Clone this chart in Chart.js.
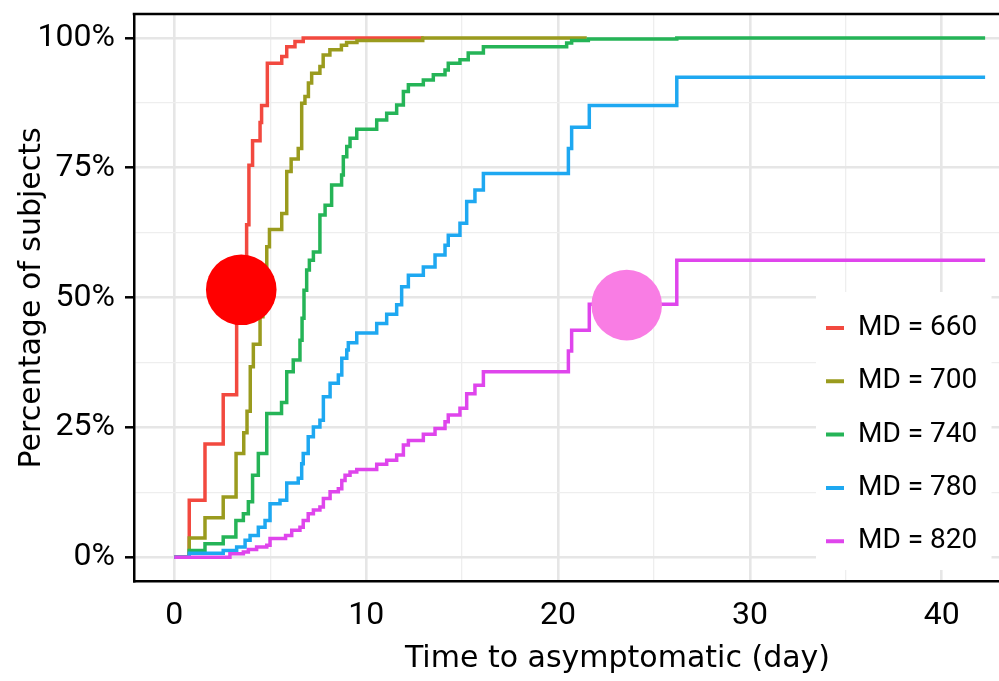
<!DOCTYPE html>
<html>
<head>
<meta charset="utf-8">
<style>
  html, body { margin: 0; padding: 0; background: #ffffff; overflow: hidden; width: 999px; height: 681px; }
  #wrap { position: relative; width: 1111px; height: 681px; }
</style>
</head>
<body>
<div id="wrap"><canvas id="c"></canvas></div>
<script src="https://cdn.jsdelivr.net/npm/chart.js@4"></script>
<script>
// ---- data (time in days, cumulative percentage) ----
const seriesLabels = ['MD = 660', 'MD = 700', 'MD = 740', 'MD = 780', 'MD = 820'];
const seriesColors = ['#f2493f', '#9a9b1e', '#25b457', '#1ea8f1', '#df45ec'];

const times660 = [0, 0.78, 1.6, 2.55, 3.25, 3.77, 3.89, 4.08, 4.47, 4.55, 4.85, 5.6, 5.86, 6.29, 6.72, 13.0];
const pct660   = [0, 11, 21.8, 31.3, 50, 64, 75.5, 80.2, 83.7, 87, 95.1, 96.4, 98.3, 99.3, 100, 100];

const times700 = [0, 0.78, 1.6, 2.55, 3.22, 3.62, 3.79, 3.96, 4.12, 4.47, 4.62, 4.82, 4.96, 5.6, 5.86, 6.09, 6.46, 6.64, 6.81, 6.99, 7.16, 7.59, 7.76, 8.11, 8.71, 8.98, 9.52, 12.95, 21.5];
const pct700   = [0, 3.7, 7.6, 11.6, 20, 24, 28.1, 36.7, 41, 46.3, 52, 59.8, 63.1, 66.2, 74.3, 76.7, 78.7, 87.4, 88.7, 91.3, 93.2, 94.5, 96.7, 97.7, 98.6, 99.1, 99.5, 100, 100];

const times740 = [0, 0.78, 1.6, 2.55, 3.21, 3.6, 3.86, 4.08, 4.38, 4.82, 5.59, 5.86, 6.2, 6.55, 6.66, 6.76, 6.9, 7.04, 7.25, 7.59, 7.86, 8.2, 8.72, 8.81, 8.99, 9.16, 9.51, 10.55, 11.07, 11.59, 11.94, 12.2, 12.98, 13.5, 14.11, 14.28, 14.89, 15.32, 16.11, 20.45, 20.71, 21.58, 26.19, 42.26];
const pct740   = [0, 1.3, 2.6, 3.9, 7.1, 8.4, 10.7, 15.8, 20, 27.7, 29.8, 35.7, 38, 41.8, 46, 51.4, 55.3, 57.2, 58.8, 65.9, 67.8, 71.7, 73.6, 77.1, 79.1, 80.7, 82.4, 84.2, 85.5, 87.1, 89.7, 91, 91.9, 92.9, 93.8, 95.1, 95.8, 97.1, 98.3, 99, 99.5, 99.8, 100, 100];

const times780 = [0, 0.78, 2.55, 3.25, 3.69, 3.95, 4.38, 4.73, 4.99, 5.51, 5.86, 6.46, 6.64, 6.72, 6.98, 7.25, 7.59, 7.77, 8.12, 8.55, 8.73, 8.99, 9.07, 9.51, 10.55, 11.07, 11.59, 11.85, 12.2, 12.98, 13.59, 14.11, 14.28, 14.89, 15.24, 15.67, 16.11, 20.54, 20.71, 21.63, 26.19, 42.26];
const pct780   = [0, 0.8, 1.3, 2, 3.3, 4.2, 5.8, 7.1, 10.3, 11, 14.3, 15.2, 18, 20, 23.2, 25.1, 26.4, 30.9, 33.5, 35.1, 38.3, 39.9, 41.3, 43.2, 45, 46.8, 48.6, 52.1, 54.3, 55.9, 58.2, 60.1, 62, 64.3, 68.5, 70.7, 73.9, 78.7, 82.8, 87, 92.4, 92.4];

const times820 = [0, 2.9, 3.6, 3.86, 4.29, 4.82, 4.99, 5.8, 6.12, 6.55, 6.72, 6.98, 7.25, 7.59, 7.77, 8.12, 8.55, 8.73, 8.9, 9.16, 9.51, 10.55, 11.07, 11.59, 11.94, 12.2, 12.98, 13.59, 14.11, 14.28, 14.89, 15.24, 15.67, 16.11, 20.54, 20.71, 21.63, 26.19, 42.26];
const pct820   = [0, 0.7, 1, 1.5, 2, 2.3, 3.6, 4.2, 5.2, 5.8, 7.1, 8.4, 9.1, 9.7, 11.3, 12.6, 13.2, 14.8, 15.8, 16.4, 16.9, 17.9, 18.7, 19.7, 21.6, 22.5, 23.7, 24.8, 26.1, 27.4, 28.7, 31.5, 33.1, 35.7, 39.7, 43.7, 48.7, 57.2, 57.2];

// highlighted markers (circles) drawn over the curves
const markerX = [3.49, 23.58];
const markerY = [51.5, 48.55];
const markerColors = ['#ff0000', '#f97de4'];

// axis ticks
const xTickLabels = [0, 10, 20, 30, 40];
const yTickLabels = [0, 25, 50, 75, 100];

// ---- build datasets ----
const allTimes = [times660, times700, times740, times780, times820];
const allPct = [pct660, pct700, pct740, pct780, pct820];

function toPoints(ts, ps) {
  const n = Math.min(ts.length, ps.length);
  const out = [];
  for (let i = 0; i < n; i++) out.push({ x: ts[i], y: ps[i] });
  return out;
}

const datasets = seriesLabels.map((lab, i) => ({
  label: lab,
  data: toPoints(allTimes[i], allPct[i]),
  borderColor: seriesColors[i],
  backgroundColor: seriesColors[i],
  borderWidth: 3.5,
  pointRadius: 0,
  stepped: 'before',
  fill: false,
  order: seriesLabels.length - i
}));
datasets.push({
  label: 'markers',
  data: toPoints(markerX, markerY),
  showLine: false,
  pointRadius: 35.3,
  pointBackgroundColor: markerColors,
  pointBorderColor: markerColors,
  pointBorderWidth: 0,
  order: 0
});

const isMajorX = v => xTickLabels.includes(v);
const isMajorY = v => yTickLabels.includes(v);

// legend placed inside the plot with a white box behind it
const insideLegend = {
  id: 'insideLegend',
  afterLayout(chart) {
    const lg = chart.legend;
    if (!lg) return;
    lg.left = 800.7; lg.top = 288.7; lg.right = 991.5; lg.bottom = 640;
    lg.width = lg.right - lg.left; lg.height = lg.bottom - lg.top;
    if (!lg.__wrapped) {
      const orig = lg.draw;
      lg.draw = function (...args) {
        const c = this.ctx;
        c.save();
        c.fillStyle = '#ffffff';
        c.fillRect(816, 292, 175.5, 278);
        c.restore();
        return orig.apply(this, args);
      };
      lg.__wrapped = true;
    }
  }
};

const frameTop = {
  id: 'frameTop',
  afterDraw(chart) {
    const { ctx, chartArea: a } = chart;
    ctx.save();
    ctx.strokeStyle = '#000000';
    ctx.lineWidth = 2.5;
    ctx.beginPath();
    ctx.moveTo(a.left - 1.25, a.top);
    ctx.lineTo(a.right, a.top);
    ctx.stroke();
    ctx.restore();
  }
};

const noPad = s => { s.paddingTop = 0; s.paddingBottom = 0; s.paddingLeft = 0; s.paddingRight = 0; };

const tickFont = { family: 'Roboto', size: 32 };
const titleFont = { family: 'DejaVu Sans', size: 30 };

new Chart(document.getElementById('c'), {
  type: 'line',
  data: { datasets },
  plugins: [insideLegend, frameTop],
  options: {
    responsive: true,
    maintainAspectRatio: false,
    animation: false,
    events: [],
    devicePixelRatio: 1,
    layout: { autoPadding: false, padding: { top: 14, right: 10, bottom: 0, left: 0 } },
    plugins: {
      title: { display: false },
      tooltip: { enabled: false },
      legend: {
        display: true,
        position: 'chartArea',
        align: 'start',
        labels: {
          color: '#000000',
          font: { family: 'Roboto', size: 28 },
          usePointStyle: true,
          pointStyle: 'line',
          pointStyleWidth: 18,
          padding: 25.3,
          filter: item => item.text !== 'markers',
          sort: (a, b) => a.datasetIndex - b.datasetIndex,
          generateLabels: chart => {
            const items = Chart.defaults.plugins.legend.labels.generateLabels(chart);
            items.forEach(it => { it.lineWidth = 4; });
            return items;
          }
        }
      }
    },
    scales: {
      x: {
        type: 'linear',
        min: -2.1,
        max: 48.3,
        afterFit: s => { s.height = 99.3; noPad(s); },
        border: { display: true, color: '#000000', width: 2.5 },
        grid: {
          drawTicks: false,
          color: c => (c.tick && isMajorX(c.tick.value) ? '#e6e6e6' : '#eeeeee'),
          lineWidth: c => (c.tick && isMajorX(c.tick.value) ? 2.6 : 1.3)
        },
        ticks: {
          stepSize: 5,
          includeBounds: false,
          autoSkip: false,
          maxRotation: 0,
          padding: 15,
          color: '#000000',
          font: tickFont,
          callback: v => (isMajorX(v) ? String(v) : '')
        },
        title: {
          display: true,
          text: 'Time to asymptomatic (day)',
          color: '#000000',
          font: titleFont,
          padding: { top: 0, bottom: 3.4 }
        }
      },
      y: {
        type: 'linear',
        min: -4.7,
        max: 104.6,
        afterFit: s => { s.width = 134; noPad(s); },
        border: { display: true, color: '#000000', width: 2.5 },
        grid: {
          drawTicks: true,
          tickLength: 9,
          tickWidth: 2.5,
          tickColor: c => (c.tick && isMajorY(c.tick.value) ? '#000000' : 'rgba(0,0,0,0)'),
          color: c => (c.tick && isMajorY(c.tick.value) ? '#e6e6e6' : '#eeeeee'),
          lineWidth: c => (c.tick && isMajorY(c.tick.value) ? 2.6 : 1.3)
        },
        ticks: {
          stepSize: 12.5,
          includeBounds: false,
          autoSkip: false,
          padding: 10,
          color: '#000000',
          font: tickFont,
          callback: v => (isMajorY(v) ? v + '%' : '')
        },
        title: {
          display: true,
          text: 'Percentage of subjects',
          color: '#000000',
          font: titleFont,
          padding: { top: 14.6, bottom: 0 }
        }
      }
    }
  }
});
</script>
</body>
</html>
